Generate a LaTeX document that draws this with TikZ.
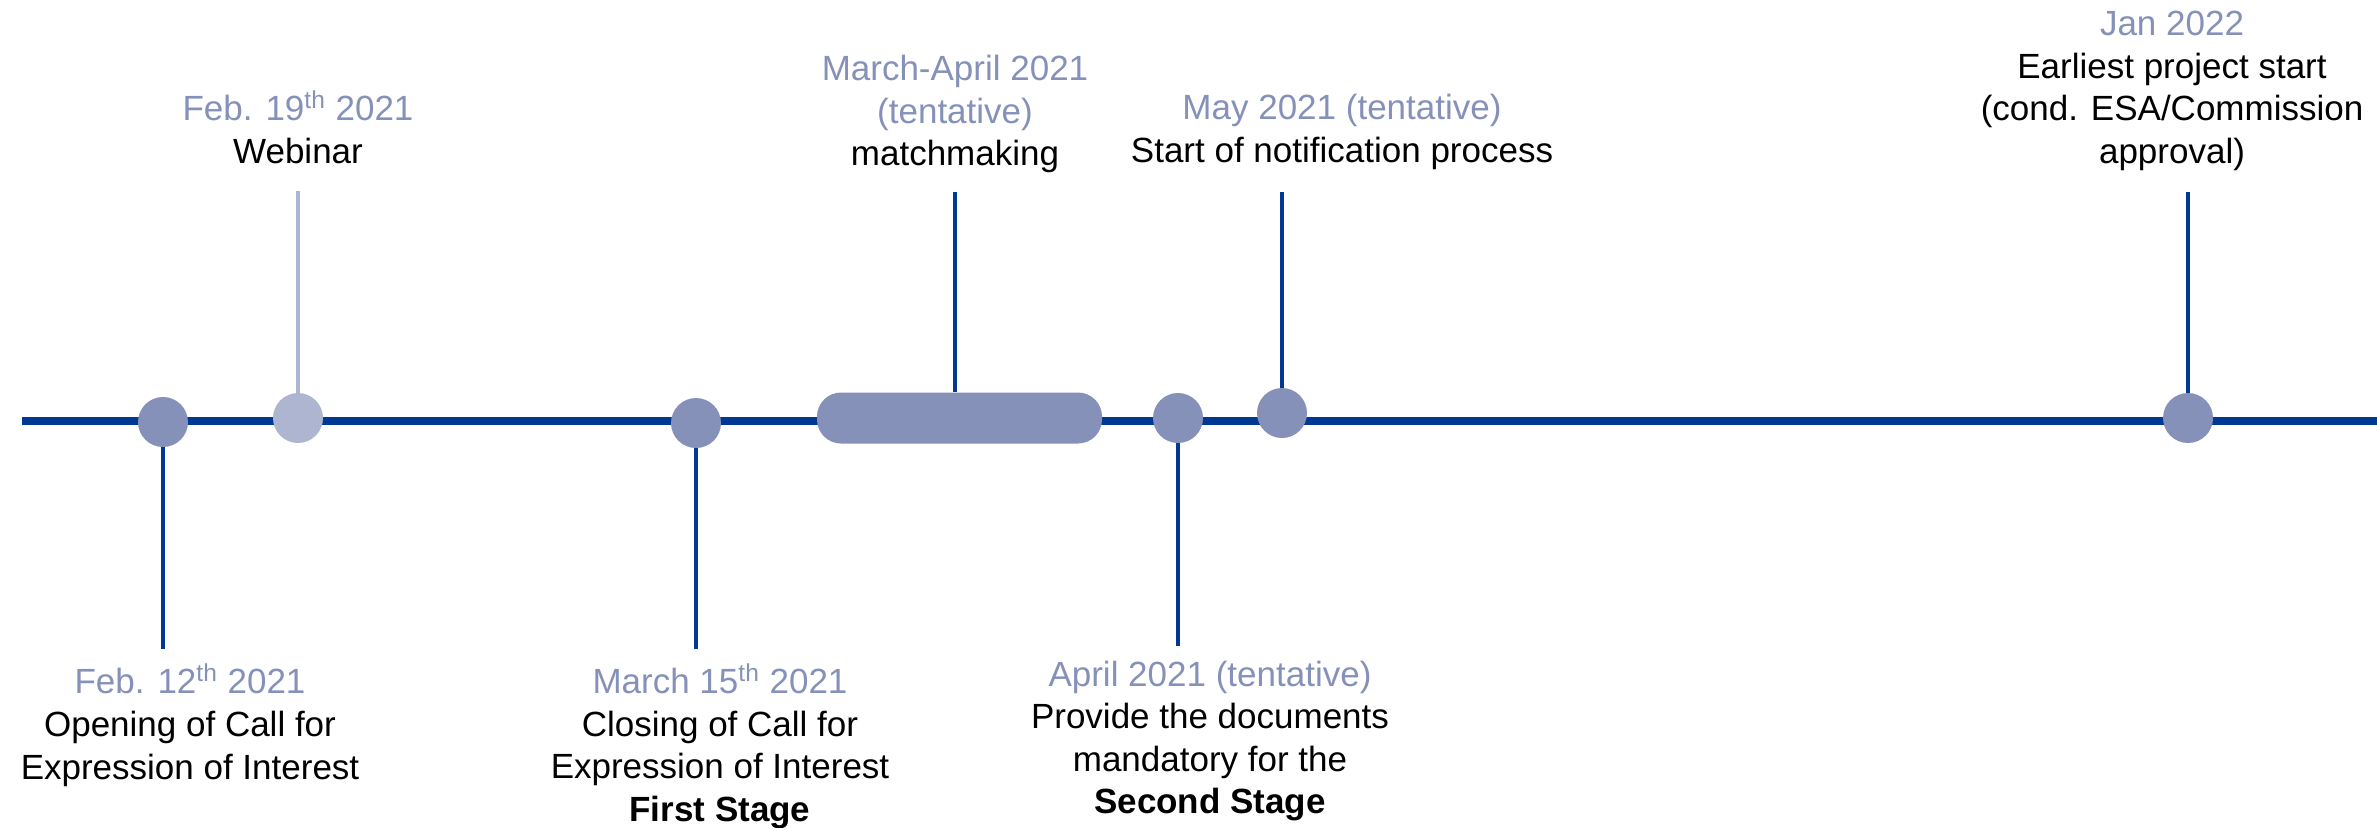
\documentclass[tikz,border=0pt]{standalone}
\usepackage{fontspec}
\setmainfont{Liberation Sans}
\usetikzlibrary{positioning}
\definecolor{tlblue}{HTML}{003893}
\definecolor{tldot}{HTML}{8591B9}
\definecolor{tllight}{HTML}{AEB5D1}
\newcommand{\tldate}[1]{\textcolor{tldot}{#1}}

\begin{document}
\begin{tikzpicture}[x=0.5pt,y=-0.5pt,
    timeline/.style={draw=tlblue,line width=4pt},
    stem/.style={draw=tlblue,line width=2pt},
    evdot/.style={circle,fill=tldot,minimum size=25pt,inner sep=0pt},
    evtext/.style={align=center,inner sep=0pt,font=\fontsize{17.5}{21.3}\selectfont}]
 \useasboundingbox (0,0) rectangle (2377,827);
 % main axis
 \coordinate (L) at (22,421);
 \coordinate (R) at (2377,421);
 \draw[timeline] (L) -- (R);
 % events on the axis
 \node[evdot] (feb12) at (163,422) {};
 \node[evdot,fill=tllight] (feb19) at (298,418) {};
 \node[evdot] (mar15) at (696,423) {};
 \node[fill=tldot,rounded corners=12pt,minimum width=142.5pt,minimum height=25.5pt,inner sep=0pt] (match) at (959.5,418) {};
 \node[evdot] (apr) at (1178,418) {};
 \node[evdot] (may) at (1282,413) {};
 \node[evdot] (jan) at (2188,418) {};
 % stem ends
 \coordinate (feb12end) at (163,649);
 \coordinate (feb19end) at (298,191);
 \coordinate (mar15end) at (696,649);
 \coordinate (matchend) at (955,192);
 \coordinate (aprend) at (1178,646);
 \coordinate (mayend) at (1282,192);
 \coordinate (janend) at (2188,192);
 \draw[stem] (feb12.south) -- (feb12end);
 \draw[stem,draw=tllight] (feb19.north) -- (feb19end);
 \draw[stem] (mar15.south) -- (mar15end);
 \draw[stem] (matchend |- match.north) -- (matchend);
 \draw[stem] (apr.south) -- (aprend);
 \draw[stem] (may.north) -- (mayend);
 \draw[stem] (jan.north) -- (janend);
 % labels
 \node[evtext] (feb12txt) at (190,725)
  {\tldate{Feb. 12\textsuperscript{th} 2021}\\Opening of Call for\\Expression of Interest};
 \node[evtext] (feb19txt) at (298,127)
  {\tldate{Feb. 19\textsuperscript{th} 2021}\\Webinar};
 \node[evtext] (mar15txt) at (720,746)
  {\tldate{March 15\textsuperscript{th} 2021}\\Closing of Call for\\Expression of Interest\\\textbf{First Stage}};
 \node[evtext] (matchtxt) at (955,114)
  {\tldate{March-April 2021}\\\tldate{(tentative)}\\matchmaking};
 \node[evtext] (aprtxt) at (1210,741)
  {\tldate{April 2021 (tentative)}\\Provide the documents\\mandatory for the\\\textbf{Second Stage}};
 \node[evtext] (maytxt) at (1342,132)
  {\tldate{May 2021 (tentative)}\\Start of notification process};
 \node[evtext] (jantxt) at (2172,91)
  {\tldate{Jan 2022}\\Earliest project start\\(cond. ESA/Commission\\approval)};
\end{tikzpicture}
\end{document}
